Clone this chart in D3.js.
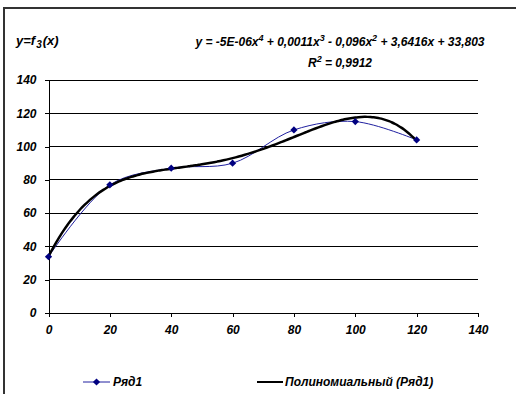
<!DOCTYPE html>
<html>
<head>
<meta charset="utf-8">
<script src="https://cdn.jsdelivr.net/npm/d3@7"></script>
<style>
  body { margin: 0; background: #fff; }
  svg text { font-family: "Liberation Sans", Arial, sans-serif; font-weight: bold; font-style: italic; fill: #000; }
</style>
</head>
<body>
<div id="chart"></div>
<script>
const xValues = [0, 20, 40, 60, 80, 100, 120];
const yValues = [33.8, 77, 87, 90, 110, 115, 104];
const xTicks = [0, 20, 40, 60, 80, 100, 120, 140];
const yTicks = [0, 20, 40, 60, 80, 100, 120, 140];
const seriesName = 'Ряд1';
const trendName = 'Полиномиальный (Ряд1)';

const WIDTH = 516;
const HEIGHT = 394;

// least squares polynomial fit (the chart's trend line, degree 4)
const polyFit = (xs, ys, degree) => {
  const n = degree + 1;
  const m = Array.from({ length: n }, () => new Array(n + 1).fill(0));
  xs.forEach((x, k) => {
    for (let i = 0; i < n; i++) {
      for (let j = 0; j < n; j++) m[i][j] += Math.pow(x, i + j);
      m[i][n] += ys[k] * Math.pow(x, i);
    }
  });
  for (let c = 0; c < n; c++) {
    let p = c;
    for (let r = c + 1; r < n; r++) if (Math.abs(m[r][c]) > Math.abs(m[p][c])) p = r;
    [m[c], m[p]] = [m[p], m[c]];
    for (let r = 0; r < n; r++) {
      if (r === c) continue;
      const f = m[r][c] / m[c][c];
      for (let j = c; j <= n; j++) m[r][j] -= f * m[c][j];
    }
  }
  return m.map((row, i) => row[n] / m[i][i]);
};

const coef = polyFit(xValues, yValues, 4);
const poly = (x) => coef.reduce((s, c, i) => s + c * Math.pow(x, i), 0);

const svg = d3.select('#chart').append('svg')
  .attr('width', WIDTH)
  .attr('height', HEIGHT);

svg.append('rect')
  .attr('x', 4).attr('y', 8)
  .attr('width', WIDTH).attr('height', HEIGHT)
  .attr('fill', '#fff')
  .attr('stroke', '#333')
  .attr('stroke-width', 2);

const x = d3.scaleLinear().domain([0, 140]).range([48.5, 478]);
const y = d3.scaleLinear().domain([0, 140]).range([313, 80]);

// gridlines
svg.append('g')
  .selectAll('line')
  .data(yTicks.filter((d) => d > 0))
  .join('line')
  .attr('x1', x(0)).attr('x2', x(140))
  .attr('y1', (d) => y(d)).attr('y2', (d) => y(d))
  .attr('stroke', '#000')
  .attr('stroke-width', 1)
  .attr('shape-rendering', 'crispEdges');

const xAxis = svg.append('g')
  .attr('transform', `translate(0,${y(0)})`)
  .call(d3.axisBottom(x).tickValues(xTicks).tickSize(4).tickPadding(8).tickSizeOuter(0));
const yAxis = svg.append('g')
  .attr('transform', `translate(${x(0)},0)`)
  .call(d3.axisLeft(y).tickValues(yTicks).tickSize(4).tickPadding(8).tickSizeOuter(0));

[xAxis, yAxis].forEach((g) => {
  g.select('.domain').attr('stroke', '#000');
  g.selectAll('.tick line').attr('stroke', '#000');
  g.selectAll('.tick text')
    .attr('font-size', 12)
    .style('font-family', '"Liberation Sans", Arial, sans-serif')
    .style('font-weight', 'bold')
    .style('font-style', 'italic')
    .attr('fill', '#000');
});
svg.selectAll('.domain, .tick line').attr('shape-rendering', 'crispEdges');
yAxis.selectAll('.tick text').attr('x', -12);

// data series
const points = xValues.map((d, i) => [d, yValues[i]]);
svg.append('path')
  .datum(points)
  .attr('fill', 'none')
  .attr('stroke', '#2020a0')
  .attr('stroke-width', 1)
  .attr('d', d3.line().x((d) => x(d[0])).y((d) => y(d[1])).curve(d3.curveCatmullRom.alpha(0.5)));

// trend line
const trendX = d3.range(0, 120.5, 1);
svg.append('path')
  .datum(trendX)
  .attr('fill', 'none')
  .attr('stroke', '#000')
  .attr('stroke-width', 2.5)
  .attr('d', d3.line().x((d) => x(d)).y((d) => y(poly(d))).curve(d3.curveBasis));

const diamond = d3.symbol().type(d3.symbolSquare).size(26);
svg.append('g')
  .selectAll('path')
  .data(points)
  .join('path')
  .attr('transform', (d) => `translate(${x(d[0])},${y(d[1])}) rotate(45)`)
  .attr('d', diamond)
  .attr('fill', '#000080');

// titles
const yLabel = svg.append('text').attr('x', 16).attr('y', 45).attr('font-size', 13);
yLabel.append('tspan').text('y=f');
yLabel.append('tspan').attr('dy', 3).attr('dx', 1).attr('font-size', 10).text('3');
yLabel.append('tspan').attr('dy', -3).attr('dx', 1).text('(x)');

const eq = svg.append('text').attr('x', 340).attr('y', 46).attr('font-size', 12).attr('text-anchor', 'middle');
const sup = (t) => eq.append('tspan').attr('dy', -5).attr('font-size', 9).text(t);
const base = (t) => eq.append('tspan').attr('dy', 5).text(t);
eq.append('tspan').text('y = -5E-06x');
sup('4');
base(' + 0,0011x');
sup('3');
base(' - 0,096x');
sup('2');
base(' + 3,6416x + 33,803');

const r2 = svg.append('text').attr('x', 340).attr('y', 67).attr('font-size', 12).attr('text-anchor', 'middle');
r2.append('tspan').text('R');
r2.append('tspan').attr('dy', -5).attr('font-size', 9).text('2');
r2.append('tspan').attr('dy', 5).text(' = 0,9912');

// legend
const legendY = 382;
svg.append('line')
  .attr('x1', 83).attr('x2', 110).attr('y1', legendY).attr('y2', legendY)
  .attr('stroke', '#2020a0').attr('stroke-width', 1);
svg.append('path')
  .attr('transform', `translate(96.5,${legendY}) rotate(45)`)
  .attr('d', diamond)
  .attr('fill', '#000080');
svg.append('text').attr('x', 113).attr('y', legendY + 4).attr('font-size', 12).text(seriesName);

svg.append('line')
  .attr('x1', 257).attr('x2', 283).attr('y1', legendY).attr('y2', legendY)
  .attr('stroke', '#000').attr('stroke-width', 2);
svg.append('text').attr('x', 285).attr('y', legendY + 4).attr('font-size', 12).text(trendName);
</script>
</body>
</html>
